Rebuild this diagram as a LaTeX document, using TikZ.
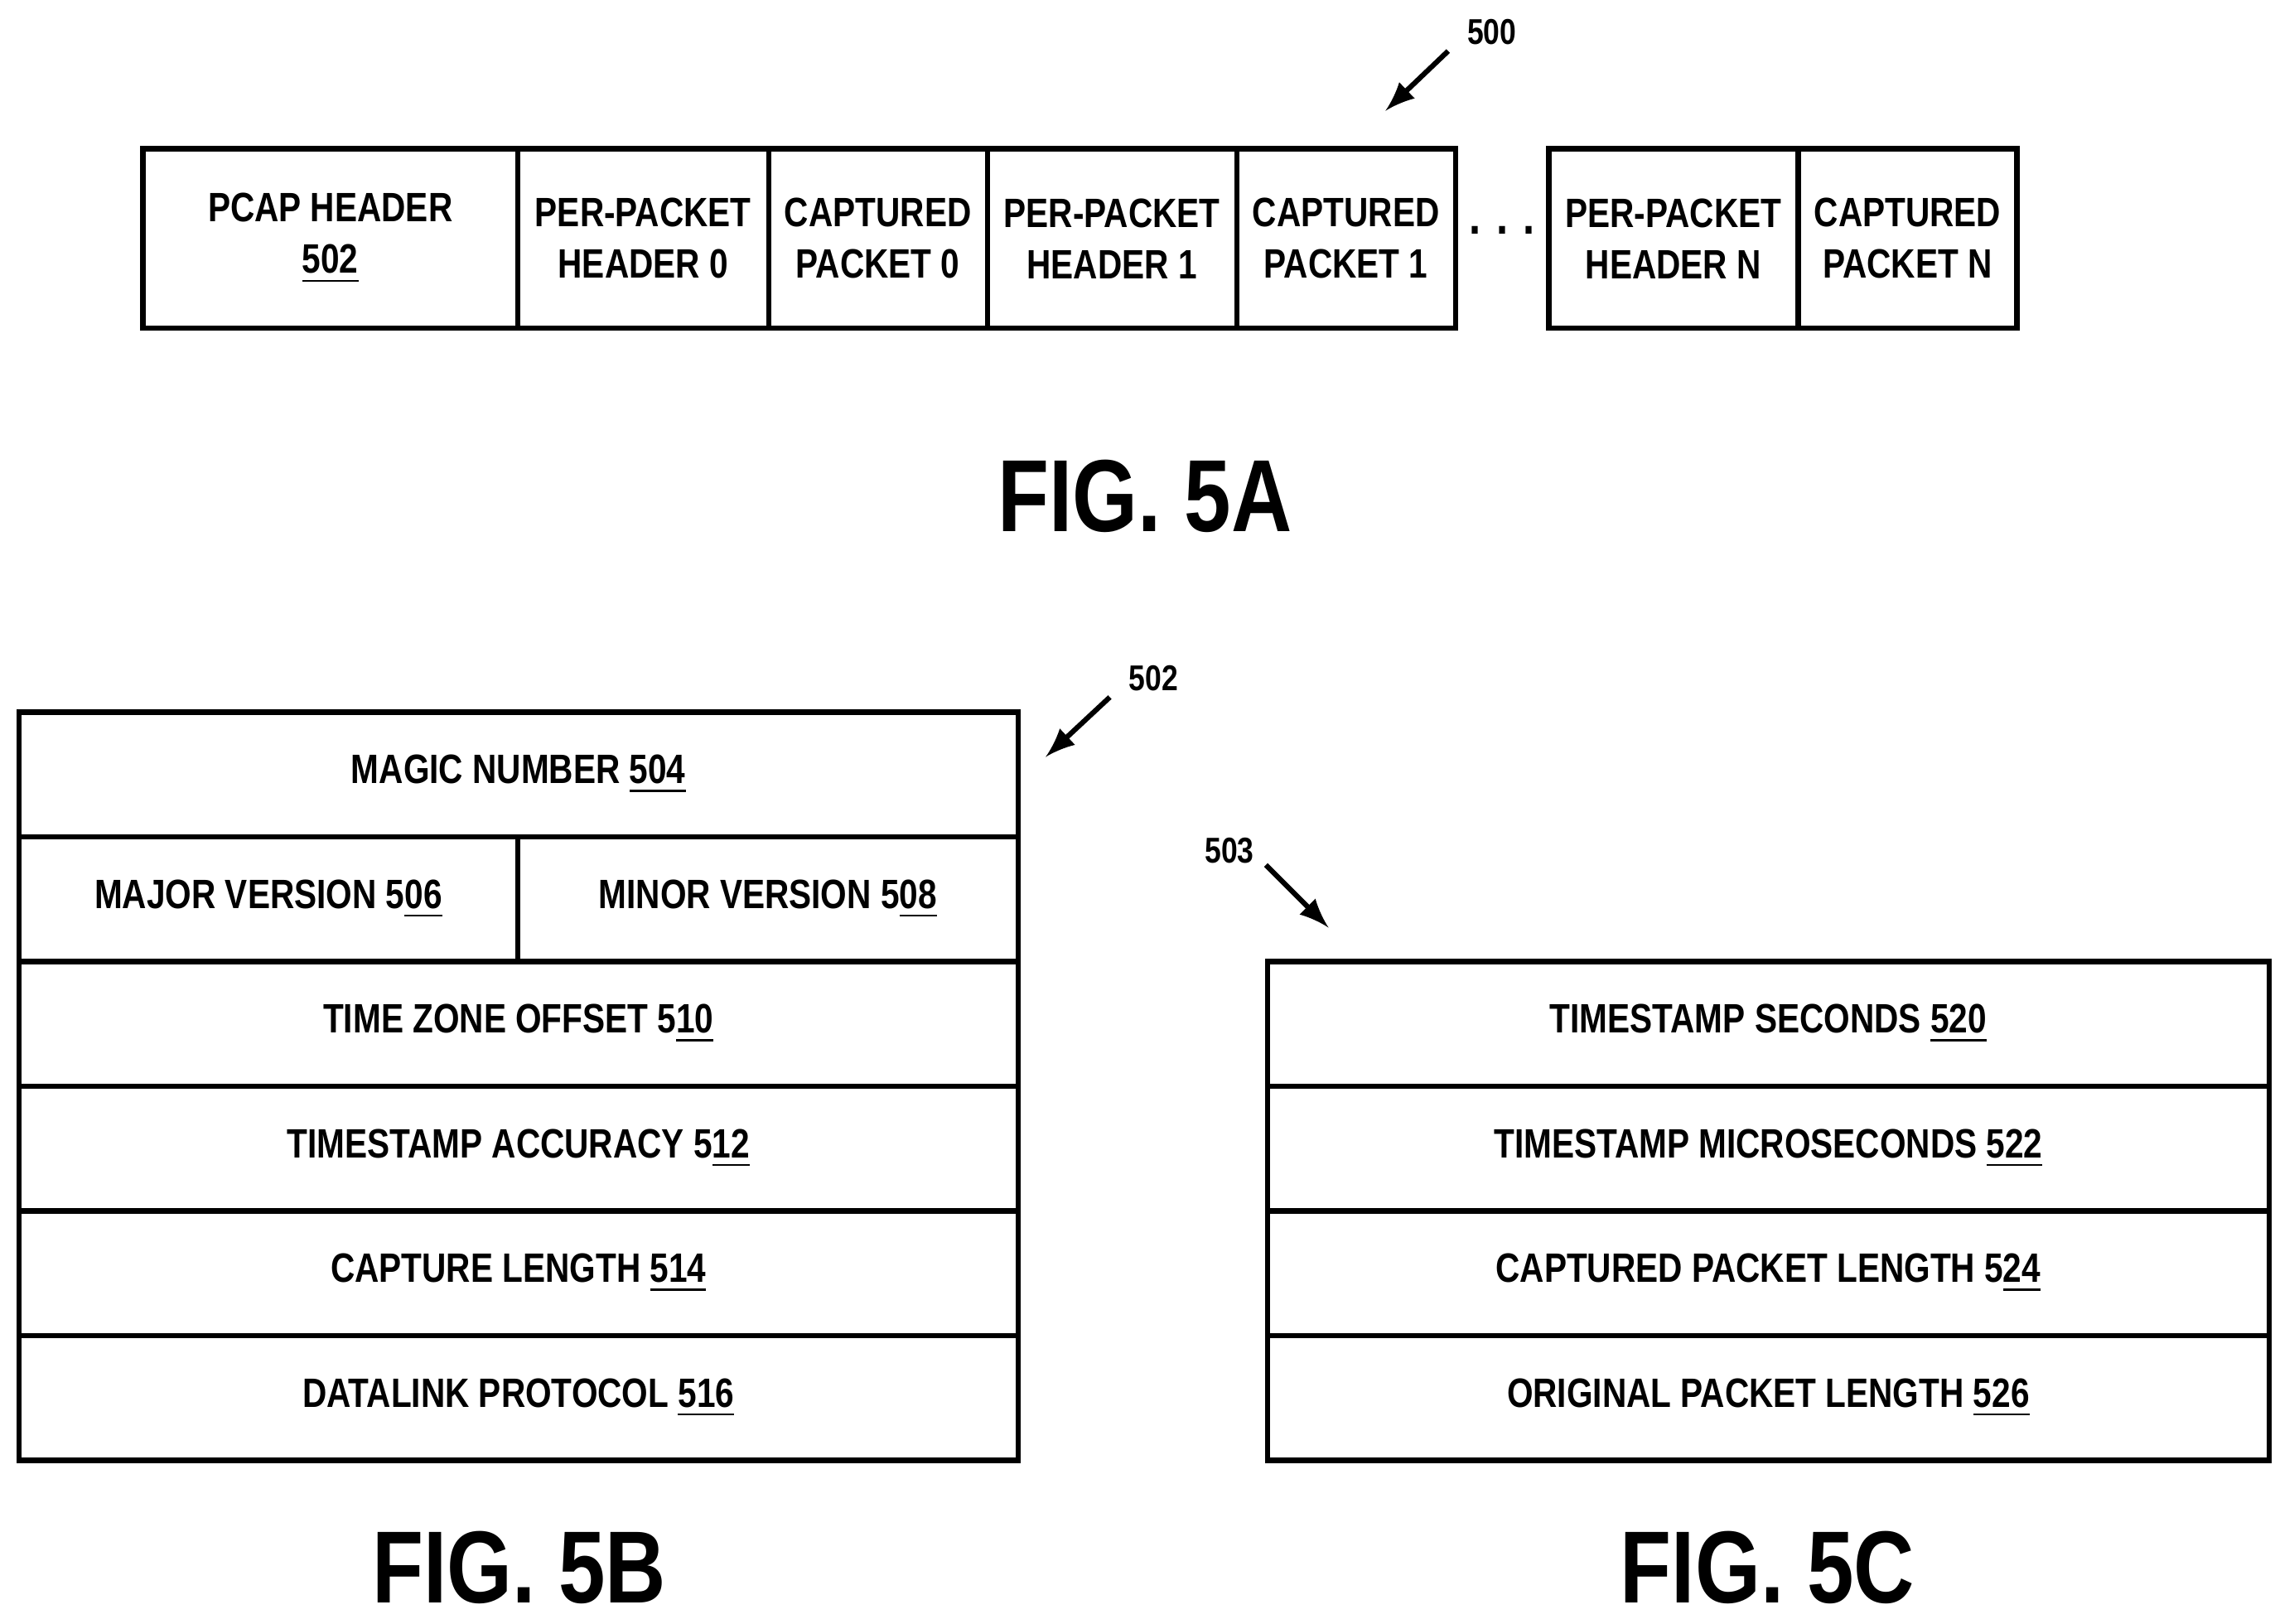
\documentclass[tikz,border=0pt]{standalone}
\usepackage{fontspec}
\setmainfont{Liberation Sans}[FakeStretch=0.82]
\begin{document}
\begin{tikzpicture}[x=0.1mm,y=-0.1mm,
  box/.style={draw,line width=1pt,minimum height=12.3mm,inner sep=0pt,font=\bfseries\fontsize{8pt}{10pt}\selectfont,align=center},
  row/.style={draw,line width=1pt,minimum height=8.55mm,inner sep=0pt,font=\bfseries\fontsize{8pt}{10pt}\selectfont},
  lbl/.style={font=\bfseries\fontsize{7pt}{9pt}\selectfont},
  fig/.style={font=\bfseries\fontsize{20pt}{24pt}\selectfont},
  arr/.style={-latex,line width=1pt}]
\useasboundingbox (0,0) rectangle (1560,1113);
% FIG 5A
\node[box,minimum width=25.7mm] (pcap) at (226.5,163.5) {PCAP HEADER\\\underline{502}};
\node[box,minimum width=17.2mm] (h0) at (441,163.5) {PER-PACKET\\HEADER 0};
\node[box,minimum width=15mm] (p0) at (602,163.5) {CAPTURED\\PACKET 0};
\node[box,minimum width=17.1mm] (h1) at (762.5,163.5) {PER-PACKET\\HEADER 1};
\node[box,minimum width=15mm] (p1) at (923,163.5) {CAPTURED\\PACKET 1};
\node[font=\bfseries\fontsize{10pt}{12pt}\selectfont] (dots) at (1030,158) {. . .};
\node[box,minimum width=17.1mm] (hn) at (1147.5,163.5) {PER-PACKET\\HEADER N};
\node[box,minimum width=15mm] (pn) at (1308,163.5) {CAPTURED\\PACKET N};
\node[lbl] (l500) at (1023,22) {500};
\coordinate (s500) at (993,35);
\coordinate (a500) at (950,76);
\draw[arr] (s500) -- (a500);
\node[fig] (f5a) at (785,340) {FIG. 5A};
% FIG 5B
\node[row,minimum width=68.5mm] (magic) at (355.5,531) {MAGIC NUMBER \underline{504}};
\node[row,minimum width=34.2mm] (major) at (184,616.5) {MAJOR VERSION 5\underline{06}};
\node[row,minimum width=34.3mm] (minor) at (526.5,616.5) {MINOR VERSION 5\underline{08}};
\node[row,minimum width=68.5mm] (tz) at (355.5,702) {TIME ZONE OFFSET 5\underline{10}};
\node[row,minimum width=68.5mm] (acc) at (355.5,787.5) {TIMESTAMP ACCURACY 5\underline{12}};
\node[row,minimum width=68.5mm] (cap) at (355.5,873) {CAPTURE LENGTH \underline{514}};
\node[row,minimum width=68.5mm] (dl) at (355.5,958.5) {DATALINK PROTOCOL \underline{516}};
\node[lbl] (l502) at (791,465) {502};
\coordinate (s502) at (761,478);
\coordinate (a502) at (717,519);
\draw[arr] (s502) -- (a502);
\node[fig] (f5b) at (356,1075) {FIG. 5B};
% FIG 5C
\node[row,minimum width=68.7mm] (ts) at (1212.5,702) {TIMESTAMP SECONDS \underline{520}};
\node[row,minimum width=68.7mm] (tus) at (1212.5,787.5) {TIMESTAMP MICROSECONDS \underline{522}};
\node[row,minimum width=68.7mm] (cpl) at (1212.5,873) {CAPTURED PACKET LENGTH 5\underline{24}};
\node[row,minimum width=68.7mm] (opl) at (1212.5,958.5) {ORIGINAL PACKET LENGTH \underline{526}};
\node[lbl] (l503) at (843,583) {503};
\coordinate (s503) at (868,593);
\coordinate (a503) at (911,636);
\draw[arr] (s503) -- (a503);
\node[fig] (f5c) at (1212,1075) {FIG. 5C};
\end{tikzpicture}
\end{document}
